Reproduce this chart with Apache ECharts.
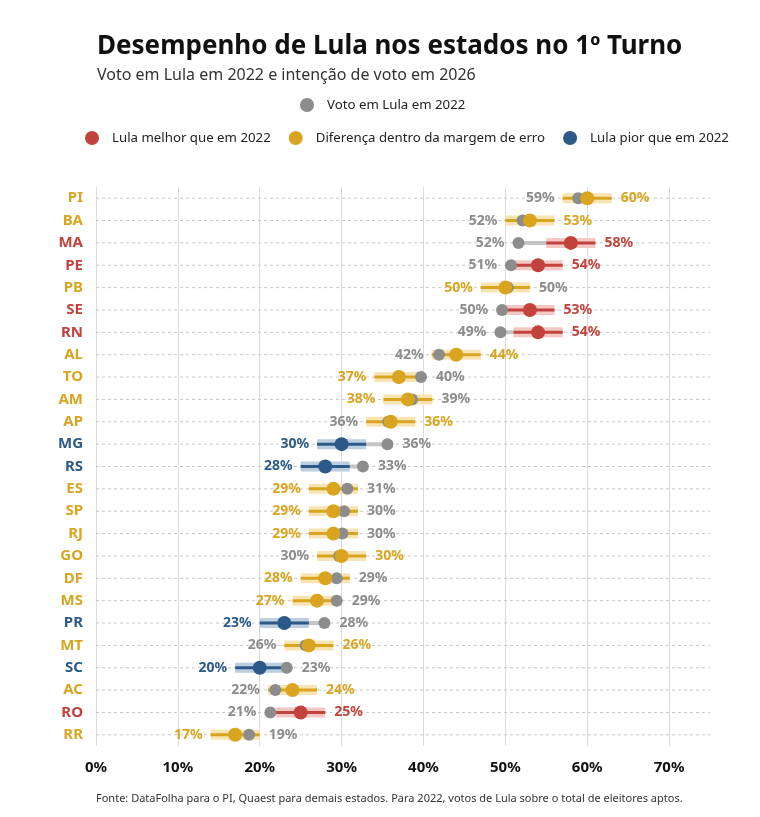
<!DOCTYPE html>
<html><head><meta charset="utf-8">
<script src="https://cdn.jsdelivr.net/npm/echarts@6/dist/echarts.min.js"></script>
<style>html,body{margin:0;padding:0;background:#fff}#c{width:760px;height:817px}</style>
</head><body><div id="c"></div>
<script>
const states = ['PI','BA','MA','PE','PB','SE','RN','AL','TO','AM','AP','MG','RS','ES','SP','RJ','GO','DF','MS','PR','MT','SC','AC','RO','RR'];
const vote2022 = [58.9,52.1,51.6,50.7,50.3,49.6,49.4,41.9,39.7,38.6,35.7,35.6,32.6,30.7,30.3,30.1,29.7,29.4,29.4,27.9,25.6,23.3,21.9,21.3,18.7];
const vote2026 = [60,53,58,54,50,53,54,44,37,38.1,36,30,28,29,29,29,30,28,27,23,26,20,24,25,17];
const status = ['margem','margem','melhor','melhor','margem','melhor','melhor','margem','margem','margem','margem','pior','pior','margem','margem','margem','margem','margem','margem','pior','margem','pior','margem','melhor','margem'];
const marginOfError = 3;
const xTicks = [0,10,20,30,40,50,60,70];
const statusKeys = ['melhor','margem','pior'];
const statusNames = {melhor:'Lula melhor que em 2022', margem:'Diferença dentro da margem de erro', pior:'Lula pior que em 2022'};
const grey = '#8c8c8c';
const colors = {melhor:'#c1433b', margem:'#d9a520', pior:'#2c5a88'};
const bandColors = {melhor:'#f3c8c4', margem:'#f8e4b3', pior:'#bccde0'};
const FONT = 'Noto Sans';

const chart = echarts.init(document.getElementById('c'));

function renderRow(params, api) {
  const idx = params.dataIndex;
  const i = api.value(0);
  const v22 = api.value(1), v26 = api.value(2);
  const st = status[idx];
  const cs = params.coordSys;
  const p22 = api.coord([v22, i]);
  const p26 = api.coord([v26, i]);
  const lo = api.coord([v26 - marginOfError, i]);
  const hi = api.coord([v26 + marginOfError, i]);
  const y = p22[1];
  const leftEdge = Math.min(p22[0] - 6, lo[0]);
  const rightEdge = Math.max(p22[0] + 6, hi[0]);
  const greyLeft = v22 <= v26;
  const font = 'bold 14px "' + FONT + '"';
  const lblGrey = Math.round(v22) + '%';
  const lblCol = Math.round(v26) + '%';
  return {
    type: 'group',
    children: [
      {type:'line', shape:{x1:cs.x, y1:y, x2:cs.x+cs.width, y2:y}, style:{stroke:'#c9c9c9', lineWidth:1, lineDash:[3,3]}},
      {type:'line', shape:{x1:p22[0], y1:y, x2:p26[0], y2:y}, style:{stroke:'#c4c4c4', lineWidth:4}},
      {type:'rect', shape:{x:lo[0], y:y-5, width:hi[0]-lo[0], height:10}, style:{fill:bandColors[st]}},
      {type:'line', shape:{x1:lo[0], y1:y, x2:hi[0], y2:y}, style:{stroke:colors[st], lineWidth:3}},
      {type:'text', style:{x:leftEdge-8, y:y, text: greyLeft ? lblGrey : lblCol, fill: greyLeft ? grey : colors[st], font:font, align:'right', verticalAlign:'middle'}},
      {type:'text', style:{x:rightEdge+9, y:y, text: greyLeft ? lblCol : lblGrey, fill: greyLeft ? colors[st] : grey, font:font, align:'left', verticalAlign:'middle'}}
    ]
  };
}

const rich = {};
statusKeys.forEach(k => { rich[k] = {color: colors[k], fontWeight:'bold', fontSize:15, fontFamily:FONT}; });

const series = [
  {
    type:'custom', name:'rows', z:2, silent:true,
    renderItem: renderRow,
    encode:{x:[1,2], y:0},
    data: states.map((s,i) => [i, vote2022[i], vote2026[i]])
  },
  {
    type:'scatter', name:'Voto em Lula em 2022', z:3, symbolSize:12,
    itemStyle:{color:grey, opacity:1},
    data: states.map((s,i) => [vote2022[i], i])
  }
];
statusKeys.forEach(k => {
  series.push({
    type:'scatter', name:statusNames[k], z:4, symbolSize:14,
    itemStyle:{color:colors[k], opacity:1},
    data: states.map((s,i) => status[i] === k ? [vote2026[i], i] : null).filter(d => d)
  });
});

const option = {
  backgroundColor:'#fff',
  animation:false,
  textStyle:{fontFamily:FONT},
  title:[
    {text:'Desempenho de Lula nos estados no 1º Turno', subtext:'Voto em Lula em 2022 e intenção de voto em 2026',
     left:92, top:29, itemGap:7,
     textStyle:{fontSize:26, fontWeight:'bold', color:'#111', fontFamily:FONT},
     subtextStyle:{fontSize:16, color:'#333', fontFamily:FONT}},
    {text:'Fonte: DataFolha para o PI, Quaest para demais estados. Para 2022, votos de Lula sobre o total de eleitores aptos.',
     left:91, top:788, textStyle:{fontSize:11, fontWeight:'normal', color:'#333', fontFamily:FONT}}
  ],
  legend:[
    {data:['Voto em Lula em 2022'], left:295, top:93, width:400, icon:'circle', itemWidth:14, itemHeight:14,
     textStyle:{fontSize:13.25, color:'#222', padding:[0,0,0,8], fontFamily:FONT}, selectedMode:false},
    {data:statusKeys.map(k => statusNames[k]), left:80, top:126, width:700, icon:'circle', itemWidth:14, itemHeight:14, itemGap:18,
     textStyle:{fontSize:13.25, color:'#222', padding:[0,0,0,8], fontFamily:FONT}, selectedMode:false}
  ],
  grid:{left:96, right:50, top:187, bottom:71},
  xAxis:{
    type:'value', min:0, max:75, interval:10,
    axisLine:{show:false}, axisTick:{show:false},
    axisLabel:{margin:14, fontSize:15, fontWeight:'bold', color:'#111', fontFamily:FONT,
      formatter: v => xTicks.indexOf(v) >= 0 ? v + '%' : ''},
    splitLine:{show:true, lineStyle:{color:['#dcdcdc','#dcdcdc','#dcdcdc','#dcdcdc','#dcdcdc','#dcdcdc','#dcdcdc','#dcdcdc','rgba(0,0,0,0)'], width:1}}
  },
  yAxis:{
    type:'category', data:states, inverse:true,
    axisLine:{show:false}, axisTick:{show:false}, splitLine:{show:false},
    axisLabel:{margin:13, rich:rich, formatter:(v, idx) => '{' + status[idx] + '|' + v + '}'}
  },
  series: series
};
chart.setOption(option);
</script>
</body></html>
